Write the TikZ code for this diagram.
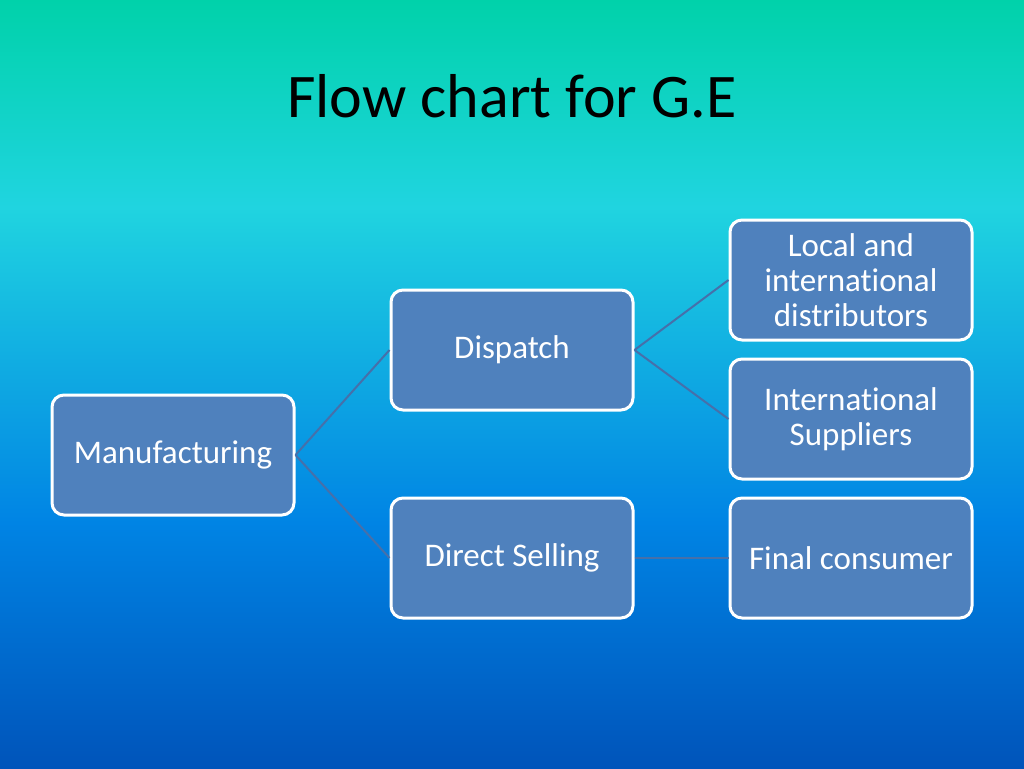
\documentclass[tikz,border=0pt]{standalone}
\usepackage{fontspec}
\setmainfont{Carlito}[Ligatures = NoCommon]
\usepackage{xcolor}
\usepackage{tikz}
\usetikzlibrary{positioning,shapes,calc}
\definecolor{boxblue}{RGB}{79,129,189}
\definecolor{linkblue}{RGB}{70,112,170}
\definecolor{bgtop}{RGB}{0,210,170}
\definecolor{bgmid}{RGB}{32,212,224}
\definecolor{bglow}{RGB}{0,132,228}
\definecolor{bgbot}{RGB}{0,84,186}
\pgfdeclareverticalshading{slide}{100bp}{color(0bp)=(bgbot); color(25bp)=(bgbot); color(41bp)=(bglow); color(61.5bp)=(bgmid); color(75bp)=(bgtop); color(100bp)=(bgtop)}
\tikzset{stage/.style = {draw = white, line width = 3pt, fill = boxblue, rounded corners = 12pt,
    minimum width = 242pt, minimum height = 120pt, align = center, text = white,
    font = \fontsize{33}{35}\selectfont},
  link/.style = {draw = linkblue, line width = 2pt}}
\begin{document}
\begin{tikzpicture}[x = 1pt, y = -1pt]
\useasboundingbox (0,0) rectangle (1024,768);
\shade[shading = slide] (0,0) rectangle (1024,768);
\node[anchor = base, font = \fontsize{62}{70}\selectfont] (title) at (512,117) {Flow chart for G.E};
\node[stage] (manu) at (173,455) {Manufacturing};
\node[stage] (dispatch) at (512,350) {Dispatch};
\node[stage] (direct) at (512,558) {Direct Selling};
\node[stage] (local) at (851,280) {Local and\\international\\distributors};
\node[stage] (supp) at (851,419) {International\\Suppliers};
\node[stage] (final) at (851,558) {Final consumer};
\draw[link] (manu.east) -- (dispatch.west);
\draw[link] (manu.east) -- (direct.west);
\draw[link] (dispatch.east) -- (local.west);
\draw[link] (dispatch.east) -- (supp.west);
\draw[link] (direct.east) -- (final.west);
\end{tikzpicture}
\end{document}
